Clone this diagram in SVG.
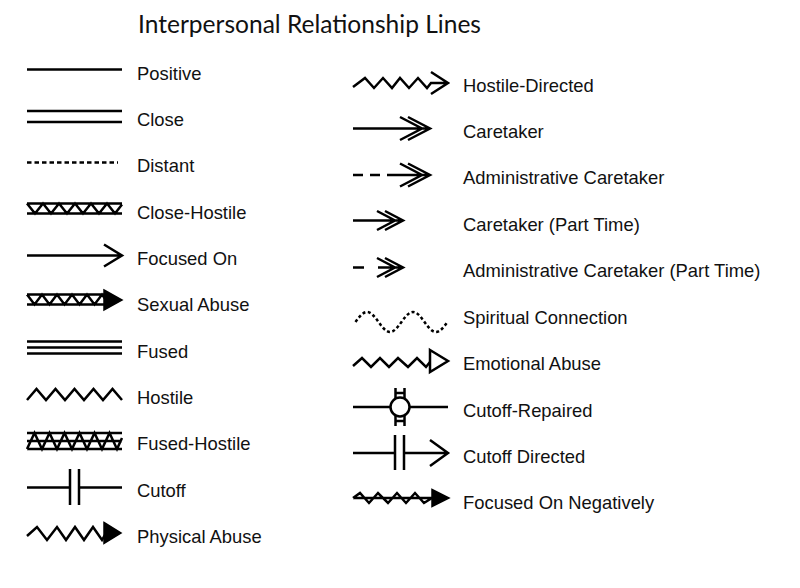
<svg xmlns="http://www.w3.org/2000/svg" width="800" height="588" viewBox="0 0 800 588">
<style>
.s{fill:none;stroke:#000;stroke-width:2.5;stroke-linejoin:miter;stroke-linecap:butt}
.f{fill:#000;stroke:#000;stroke-width:1.5;stroke-linejoin:miter}
.o{fill:#fff;stroke:#000;stroke-width:2.5;stroke-linejoin:miter}
.t{font-family:"Liberation Sans",Arial,sans-serif;font-size:18.4px;fill:#111}
.title{font-family:Lato,"Open Sans",sans-serif;font-size:25px;fill:#111}
</style>
<rect width="800" height="588" fill="#fff"/>
<text class="title" x="138" y="33" textLength="343" lengthAdjust="spacingAndGlyphs">Interpersonal Relationship Lines</text>

<g id="connectors">
<!-- left column -->
<g id="positive"><path class="s" d="M27,69.5H122"/><text class="t" x="137" y="79.5">Positive</text></g>
<g id="close"><path class="s" d="M27,111H122M27,122H122"/><text class="t" x="137" y="125.5">Close</text></g>
<g id="distant"><path class="s" d="M27,162.5H118" stroke-dasharray="4.5 3"/><text class="t" x="137" y="171.5">Distant</text></g>
<g id="close-hostile"><path class="s" d="M27,203.5H122M27,213.5H122M27,203.5L35,213.5L43,203.5L51,213.5L59,203.5L67,213.5L75,203.5L83,213.5L91,203.5L99,213.5L107,203.5L115,213.5L122,204.5"/><text class="t" x="137" y="218.5">Close-Hostile</text></g>
<g id="focused-on"><path class="s" d="M27,255.5H121M104,244.5L122,255.5L104,266.5"/><text class="t" x="137" y="264.5">Focused On</text></g>
<g id="sexual-abuse"><path class="s" d="M27,294.5H106M27,304.5H106M27,294.5L34.5,304.5L42,294.5L49.5,304.5L57,294.5L64.5,304.5L72,294.5L79.5,304.5L87,294.5L94.5,304.5L102,294.5L106,300"/><polygon class="f" points="104,290 122,300 104,310"/><text class="t" x="137" y="310.5">Sexual Abuse</text></g>
<g id="fused"><path class="s" d="M27,341.5H122M27,347.5H122M27,353.5H122"/><text class="t" x="137" y="357.5">Fused</text></g>
<g id="hostile"><path class="s" d="M27,400L36.5,389L46,400L55.5,389L65,400L74.5,389L84,400L93.5,389L103,400L112.5,389L122,400"/><text class="t" x="137" y="403.5">Hostile</text></g>
<g id="fused-hostile"><path class="s" d="M27,433H122M27,441H122M27,449H122M27,449L34.5,433L42,449L49.5,433L57,449L64.5,433L72,449L79.5,433L87,449L94.5,433L102,449L109.5,433L117,449L122,438"/><text class="t" x="137" y="449.5">Fused-Hostile</text></g>
<g id="cutoff"><path class="s" d="M27,487.5H70M79,487.5H122M70,469V505M79,469V505"/><text class="t" x="137" y="496.5">Cutoff</text></g>
<g id="physical-abuse"><path class="s" d="M27,536L37,527L47,540L57,527L66,540L75,527L84,540L93,527L102,540L106,533"/><polygon class="f" points="104,522.5 121,533 104,543.5"/><text class="t" x="137" y="542.5">Physical Abuse</text></g>

<!-- right column -->
<g id="hostile-directed"><path class="s" d="M353,87L365,78L374,88L383,78L392,88L400,78L409,88L418,78L427,88L431,83H447M431,72L448,83L431,94"/><text class="t" x="463" y="91.5">Hostile-Directed</text></g>
<g id="caretaker"><path class="s" d="M353,128.5H429M400,117L422,128.5L400,140M408,117L430,128.5L408,140"/><text class="t" x="463" y="137.5">Caretaker</text></g>
<g id="administrative-caretaker"><path class="s" d="M353,175H363M370,175H380M387,175H429M400,163.5L422,175L400,186.5M408,163.5L430,175L408,186.5"/><text class="t" x="463" y="183.5">Administrative Caretaker</text></g>
<g id="caretaker-part-time"><path class="s" d="M353,220.5H401M377,211L395,220.5L377,230M385,211L403,220.5L385,230"/><text class="t" x="463" y="230.5">Caretaker (Part Time)</text></g>
<g id="administrative-caretaker-part-time"><path class="s" d="M353,267.5H364M378,267.5H401M377,258L395,267.5L377,277M385,258L403,267.5L385,277"/><text class="t" x="463" y="276.5">Administrative Caretaker (Part Time)</text></g>
<g id="spiritual-connection"><path class="s" stroke-dasharray="3 2.5" d="M355.5,322C359.5,316.5 363,312 367,312S374.5,316.5 378.5,322S386,332 390,332S397.5,327.5 401.5,322S409,312 413,312S420.5,316.5 424.5,322S432,332 436,332S443.5,327.5 447.5,322"/><text class="t" x="463" y="323.5">Spiritual Connection</text></g>
<g id="emotional-abuse"><path class="s" d="M353,366L362,358L371,367L380,358L389,367L398,358L408,367L417,358L426,367L430,362"/><polygon class="o" points="430,350 448,361 430,372"/><text class="t" x="463" y="369.5">Emotional Abuse</text></g>
<g id="cutoff-repaired"><path class="s" d="M353,407H391M409,407H448M395.5,388V399M404.5,388V399M395.5,393H404.5M395.5,415V426M404.5,415V426M395.5,421H404.5"/><circle class="o" cx="400" cy="407" r="9.5"/><text class="t" x="463" y="416.5">Cutoff-Repaired</text></g>
<g id="cutoff-directed"><path class="s" d="M353,453H395M404,453H447M395,435V470M404,435V470M430,440L448,453L430,466"/><text class="t" x="463" y="462.5">Cutoff Directed</text></g>
<g id="focused-on-negatively"><path class="s" d="M353,498H433M353,498L360,493L369,503L378,493L388,503L397,493L406,503L415,493L424,503L432,498"/><polygon class="f" points="432,489.5 449,498 432,506.5"/><text class="t" x="463" y="508.5">Focused On Negatively</text></g>
</g>
</svg>
